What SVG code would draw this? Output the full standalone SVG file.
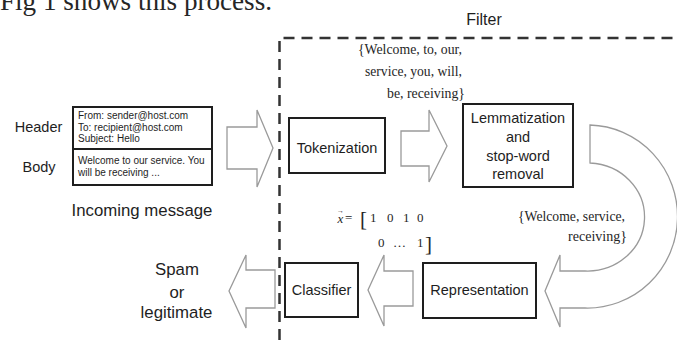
<svg xmlns="http://www.w3.org/2000/svg" width="677" height="340" viewBox="0 0 677 340">
<style>
.box{fill:#fff;stroke:#1e1e1e;stroke-width:2}
.arr{fill:#fff;stroke:#9a9a9a;stroke-width:1.3;stroke-linejoin:miter}
.sans{font-family:"Liberation Sans",Arial,sans-serif;fill:#1e1e1e}
.lbl{font-size:14.5px;text-anchor:middle}
.big{font-size:16.8px;text-anchor:middle}
.mail{font-size:10px}
.serif{font-family:"Liberation Serif","Times New Roman",serif;fill:#262626}
.dash{fill:none;stroke:#333;stroke-width:2.5;stroke-dasharray:11 7}
</style>
<rect width="677" height="340" fill="#fff"/>
<text x="0" y="10" class="serif" font-size="27" fill="#111" textLength="272" lengthAdjust="spacingAndGlyphs">Fig 1 shows this process.</text>

<g id="filter">
<path class="dash" d="M279.5,340 V38 H677"/>
<text x="484" y="25" class="sans" font-size="16" text-anchor="middle">Filter</text>
</g>

<g id="message">
<rect class="box" x="73" y="107" width="139" height="78"/>
<line x1="73" y1="149" x2="212" y2="149" stroke="#1e1e1e" stroke-width="2"/>
<text class="sans mail" x="78" y="119">From: sender@host.com</text>
<text class="sans mail" x="78" y="131">To: recipient@host.com</text>
<text class="sans mail" x="78" y="142">Subject: Hello</text>
<text class="sans mail" x="78" y="164">Welcome to our service. You</text>
<text class="sans mail" x="78" y="176">will be receiving ...</text>
<text class="sans lbl" x="38.5" y="132">Header</text>
<text class="sans lbl" x="39" y="172">Body</text>
<text class="sans big" x="142" y="216">Incoming message</text>
</g>

<g id="tokenization">
<rect class="box" x="289" y="118" width="96" height="55"/>
<text class="sans lbl" x="337" y="153">Tokenization</text>
</g>

<g id="lemmatization">
<rect class="box" x="463" y="104" width="110" height="83"/>
<text class="sans lbl" x="518" y="123">Lemmatization</text>
<text class="sans lbl" x="518" y="142">and</text>
<text class="sans lbl" x="518" y="161">stop-word</text>
<text class="sans lbl" x="518" y="179">removal</text>
</g>

<g id="representation">
<rect class="box" x="423" y="263" width="113" height="55"/>
<text class="sans lbl" x="479.5" y="295" font-size="14">Representation</text>
</g>

<g id="classifier">
<rect class="box" x="285" y="263" width="73" height="54"/>
<text class="sans lbl" x="321.5" y="295">Classifier</text>
</g>

<g id="output">
<text class="sans big" x="177" y="275" font-size="17">Spam</text>
<text class="sans big" x="177" y="298" font-size="17">or</text>
<text class="sans big" x="176.5" y="318" font-size="17">legitimate</text>
</g>

<g id="connectors">
<path class="arr" d="M227,127 H257 V110 L273,148 L257,187 V169 H227 Z"/>
<path class="arr" d="M401,131 H429 V110 L447,146 L429,182 V166 H401 Z"/>
<path class="arr" d="M590,125 A90,91.5 0 0 1 585,308 H560 V327 L545,291 L560,255 V271 H585 A57,54 0 0 0 590,163 Z"/>
<path class="arr" d="M413,271 H384 V255 L368,290 L384,326 V306 H413 Z"/>
<path class="arr" d="M275,270 H246 V255 L229,291 L246,328 V308 H275 Z"/>
</g>

<g id="labels">
<text class="serif" font-size="14" text-anchor="end" x="462" y="54" textLength="104" lengthAdjust="spacingAndGlyphs">{Welcome, to, our,</text>
<text class="serif" font-size="14" text-anchor="end" x="462" y="76" textLength="97" lengthAdjust="spacingAndGlyphs">service, you, will,</text>
<text class="serif" font-size="14" text-anchor="end" x="465" y="98" textLength="78" lengthAdjust="spacingAndGlyphs">be, receiving}</text>
<text class="serif" font-size="14" text-anchor="end" x="625" y="221" textLength="107" lengthAdjust="spacingAndGlyphs">{Welcome, service,</text>
<text class="serif" font-size="14" text-anchor="end" x="627" y="241" textLength="59" lengthAdjust="spacingAndGlyphs">receiving}</text>
<g class="serif" font-size="13">
<text x="337" y="223" font-style="italic">x<tspan dx="-6.3" dy="-10" font-size="7" font-style="normal">→</tspan></text>
<text x="345" y="222">=</text>
<text x="360" y="226" font-size="21">[</text>
<text x="370" y="222">1</text>
<text x="387" y="222">0</text>
<text x="403" y="222">1</text>
<text x="417" y="222">0</text>
<text x="378" y="247">0</text>
<text x="393" y="247">…</text>
<text x="417" y="247">1</text>
<text x="425" y="251" font-size="21">]</text>
</g>
</g>
</svg>
